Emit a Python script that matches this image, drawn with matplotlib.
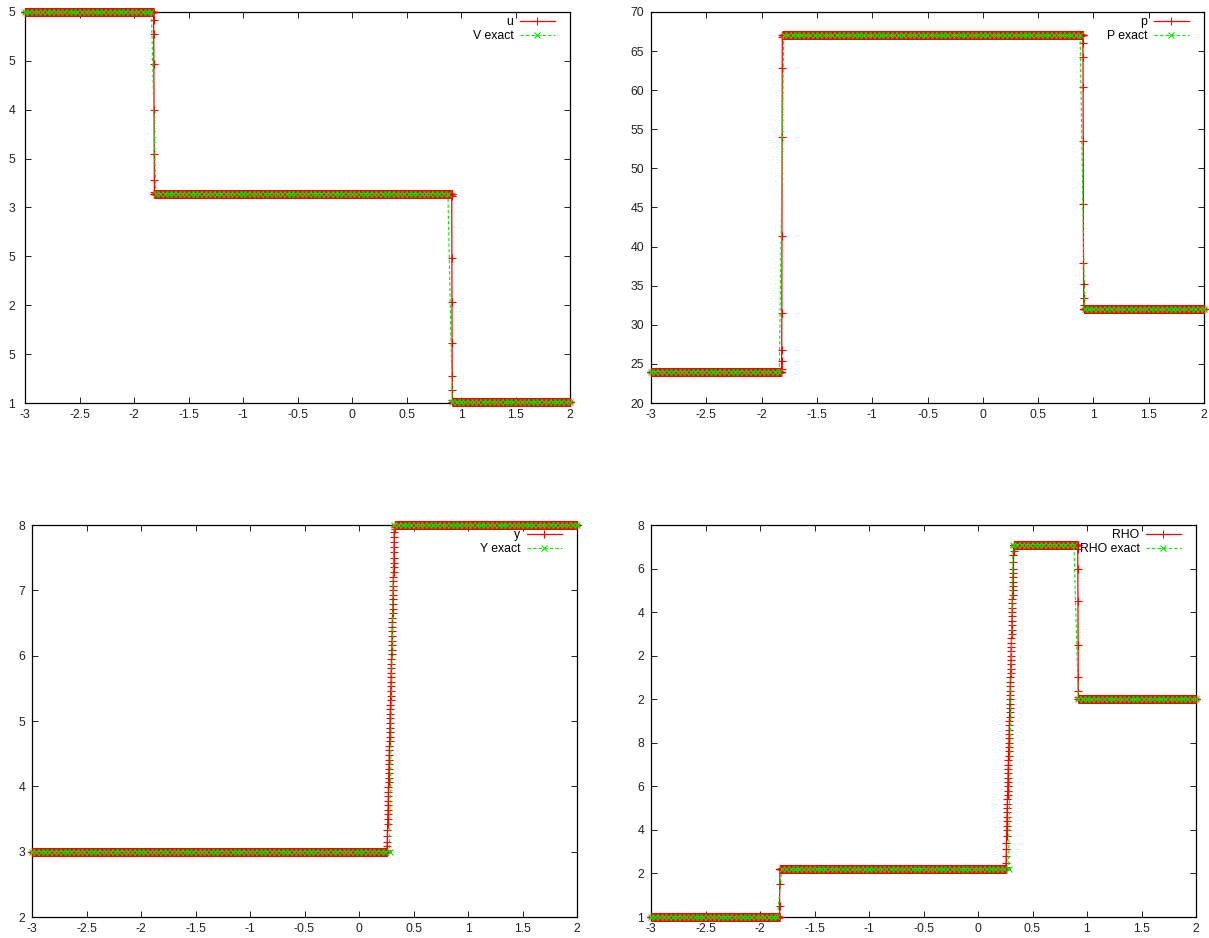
import numpy as np
import matplotlib
matplotlib.use('Agg')
import matplotlib.pyplot as plt

plt.rcParams['font.family'] = ['Liberation Sans', 'DejaVu Sans']

# ---------------- data ----------------
X_MIN, X_MAX = -3.0, 2.0
DX_NUM = 0.001      # numerical grid spacing
DX_EXACT = 0.04     # exact-solution sampling spacing

x_ticks = [-3, -2.5, -2, -1.5, -1, -0.5, 0, 0.5, 1, 1.5, 2]
x_ticklabels = ['-3', '-2.5', '-2', '-1.5', '-1', '-0.5', '0', '0.5', '1', '1.5', '2']

# velocity panel
u_levels = [5.0, 3.14, 1.01]
u_num_breaks = [-1.82, 0.915]
u_num_transitions = [[4.92, 4.78, 4.47, 4.0, 3.55, 3.28, 3.16],
                     [3.12, 2.48, 2.03, 1.61, 1.28, 1.13, 1.03]]
u_exact_breaks = [-1.82, 0.90]
u_yticks = [1, 1.5, 2, 2.5, 3, 3.5, 4, 4.5, 5]
u_yticklabels = ['1', '5', '2', '5', '3', '5', '4', '5', '5']

# pressure panel
p_levels = [24.0, 67.0, 32.0]
p_num_breaks = [-1.82, 0.905]
p_num_transitions = [[24.3, 25.4, 26.8, 31.5, 41.4, 54.0, 62.9, 66.8],
                     [66.0, 64.3, 60.4, 53.5, 45.5, 37.9, 35.2, 33.4, 32.5]]
p_exact_breaks = [-1.82, 0.90]
p_yticks = [20, 25, 30, 35, 40, 45, 50, 55, 60, 65, 70]
p_yticklabels = ['20', '25', '30', '35', '40', '45', '50', '55', '60', '65', '70']

# mass-fraction panel
y_levels = [3.0, 8.0]
y_num_breaks = [0.257]
y_num_transitions = [[3.03, 3.08, 3.15, 3.24, 3.33, 3.42, 3.50, 3.57, 3.64, 3.71,
                      3.78, 3.85, 3.92, 3.99, 4.06, 4.13, 4.20, 4.27, 4.34, 4.41,
                      4.48, 4.55, 4.62, 4.69, 4.76, 4.83, 4.90, 4.97, 5.04, 5.11,
                      5.18, 5.25, 5.32, 5.39, 5.46, 5.53, 5.60, 5.67, 5.74, 5.81,
                      5.88, 5.95, 6.02, 6.09, 6.16, 6.23, 6.30, 6.37, 6.44, 6.51,
                      6.58, 6.65, 6.72, 6.79, 6.86, 6.93, 7.00, 7.07, 7.14, 7.21,
                      7.28, 7.35, 7.42, 7.50, 7.58, 7.66, 7.74, 7.82, 7.89, 7.94,
                      7.97, 7.99]]
y_exact_breaks = [0.30]
y_yticks = [2, 3, 4, 5, 6, 7, 8]
y_yticklabels = ['2', '3', '4', '5', '6', '7', '8']

# density panel
r_levels = [1.0, 1.22, 2.71, 2.0]
r_num_breaks = [-1.82, 0.257, 0.915]
r_num_transitions = [[1.05, 1.15],
                     [1.23, 1.25, 1.28, 1.31, 1.34, 1.37, 1.40, 1.42, 1.44, 1.46,
                      1.48, 1.50, 1.52, 1.54, 1.56, 1.58, 1.60, 1.62, 1.64, 1.66,
                      1.68, 1.70, 1.72, 1.74, 1.76, 1.78, 1.80, 1.82, 1.84, 1.86,
                      1.88, 1.90, 1.92, 1.94, 1.96, 1.98, 2.00, 2.02, 2.04, 2.06,
                      2.08, 2.10, 2.12, 2.14, 2.16, 2.18, 2.20, 2.22, 2.24, 2.26,
                      2.28, 2.30, 2.32, 2.34, 2.36, 2.38, 2.40, 2.42, 2.44, 2.46,
                      2.48, 2.50, 2.52, 2.54, 2.56, 2.58, 2.60, 2.63, 2.66, 2.68,
                      2.70],
                     [2.69, 2.60, 2.45, 2.25, 2.10, 2.04, 2.01]]
r_exact_breaks = [-1.82, 0.30, 0.90]
r_yticks = [1.0, 1.2, 1.4, 1.6, 1.8, 2.0, 2.2, 2.4, 2.6, 2.8]
r_yticklabels = ['1', '2', '4', '6', '8', '2', '2', '4', '6', '8']

# ---------------- helpers ----------------
x_num = np.linspace(X_MIN, X_MAX, int(round((X_MAX - X_MIN) / DX_NUM)) + 1)
x_ex = np.linspace(X_MIN, X_MAX, int(round((X_MAX - X_MIN) / DX_EXACT)) + 1)


def numeric(levels, breaks, transitions):
    y = np.empty_like(x_num)
    n = len(x_num)
    starts = [int(round((b - X_MIN) / DX_NUM)) for b in breaks]
    cur = 0
    for k, lvl in enumerate(levels):
        end = starts[k] if k < len(starts) else n
        y[cur:end] = lvl
        cur = end
        if k < len(starts):
            tr = transitions[k]
            y[cur:cur + len(tr)] = tr
            cur += len(tr)
    return y


def exact(levels, breaks):
    idx = np.searchsorted(np.array(breaks), x_ex)
    return np.array(levels)[idx]


FS = 8.8
W, H = 1209, 938
fig = plt.figure(figsize=(W / 100, H / 100), dpi=100)


def make_axes(l, r, t, b):
    return fig.add_axes([l / W, 1 - b / H, (r - l) / W, (b - t) / H])


panels = [
    (make_axes(25, 570, 12, 403), u_levels, u_num_breaks, u_num_transitions, u_exact_breaks,
     (1, 5), u_yticks, u_yticklabels, ('u', 'V exact'), 7),
    (make_axes(651, 1204, 12, 403), p_levels, p_num_breaks, p_num_transitions, p_exact_breaks,
     (20, 70), p_yticks, p_yticklabels, ('p', 'P exact'), 5),
    (make_axes(32, 577, 525, 917), y_levels, y_num_breaks, y_num_transitions, y_exact_breaks,
     (2, 8), y_yticks, y_yticklabels, ('y', 'Y exact'), 5),
    (make_axes(651, 1196, 525, 917), r_levels, r_num_breaks, r_num_transitions, r_exact_breaks,
     (1, 2.8), r_yticks, r_yticklabels, ('RHO', 'RHO exact'), 5),
]

for ax, lv, nb, nt, eb, ylim, yt, ytl, labels, ypad in panels:
    yn = numeric(lv, nb, nt)
    ye = exact(lv, eb)
    ax.plot(x_num, yn, color='#ff0000', lw=0.9, marker='+', ms=5.2, mew=0.8,
            label=labels[0], clip_on=False, zorder=3)
    ax.plot(x_ex, ye, color='#00ee00', lw=0.8, ls=(0, (3, 2)), marker='x', ms=4.5, mew=0.8,
            label=labels[1], clip_on=False, zorder=4)
    ax.set_xlim(X_MIN, X_MAX)
    ax.set_ylim(*ylim)
    ax.set_xticks(x_ticks)
    ax.set_xticklabels(x_ticklabels)
    ax.set_yticks(yt)
    ax.set_yticklabels(ytl)
    ax.tick_params(direction='in', top=True, right=True, length=4.3, width=0.7,
                   labelsize=FS, colors='#222222')
    ax.tick_params(axis='x', pad=4.2)
    ax.tick_params(axis='y', pad=ypad)
    for s in ax.spines.values():
        s.set_linewidth(0.9)
        s.set_color('#000000')
    ax.set_facecolor('white')
    bw = ax.get_position().width * W
    bh = ax.get_position().height * H
    ax.legend(loc='upper right', frameon=False, markerfirst=False, fontsize=FS,
              handlelength=2.9, handletextpad=0.5, labelspacing=0.2,
              borderpad=0, borderaxespad=0,
              bbox_to_anchor=(1 - 15 / bw, 1 - 4 / bh))

fig.savefig('out.png', dpi=100)
